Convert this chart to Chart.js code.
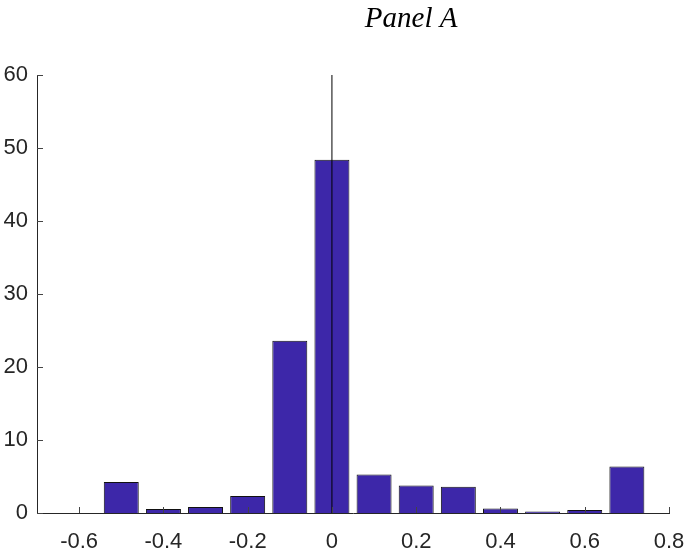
<!DOCTYPE html>
<html>
<head>
<meta charset="utf-8">
<script src="https://cdn.jsdelivr.net/npm/chart.js@4.4.1/dist/chart.umd.min.js"></script>
<style>
    body { margin: 0; background: #fff; }
    #wrap { position: relative; width: 688px; height: 553px; }
</style>
</head>
<body>
<div id="wrap"><canvas id="chart"></canvas></div>
<script>
const titleText = 'Panel A';

// bin centres and the share (%) in each bin
const binCenters = [-0.6, -0.5, -0.4, -0.3, -0.2, -0.1, 0, 0.1, 0.2, 0.3, 0.4, 0.5, 0.6, 0.7];
const binShares = [0, 4.25, 0.55, 0.82, 2.33, 23.6, 48.4, 5.29, 3.78, 3.6, 0.63, 0.22, 0.41, 6.38];

const xTicks = [-0.6, -0.4, -0.2, 0, 0.2, 0.4, 0.6, 0.8];
const yTicks = [0, 10, 20, 30, 40, 50, 60];

// vertical reference line at zero
const refLineX = [0, 0];
const refLineY = [0, 60];

const tickFont = { family: '"Liberation Sans", Arial, sans-serif', size: 22 };

// inward tick marks + title
const panelDecor = {
    id: 'panelDecor',
    afterDatasetsDraw(chart) {
        const { ctx, chartArea } = chart;
        const x = chart.scales.x;
        const y = chart.scales.y;
        ctx.save();
        ctx.strokeStyle = '#444';
        ctx.lineWidth = 1;
        ctx.beginPath();
        xTicks.forEach((v) => {
            const px = Math.round(x.getPixelForValue(v)) + 0.5;
            ctx.moveTo(px, chartArea.bottom);
            ctx.lineTo(px, chartArea.bottom - 6);
        });
        yTicks.forEach((v) => {
            const py = Math.round(y.getPixelForValue(v)) + 0.5;
            ctx.moveTo(chartArea.left, py);
            ctx.lineTo(chartArea.left + 6, py);
        });
        ctx.stroke();

        ctx.font = 'italic 29px "Liberation Serif", "Times New Roman", serif';
        ctx.fillStyle = '#000';
        ctx.textAlign = 'center';
        ctx.textBaseline = 'alphabetic';
        ctx.fillText(titleText, chartArea.left + chartArea.width * 0.592, 27);
        ctx.restore();
    }
};

new Chart(document.getElementById('chart'), {
    type: 'bar',
    data: {
        datasets: [
            {
                type: 'line',
                data: refLineX.map((v, i) => ({ x: v, y: refLineY[i] })),
                borderColor: '#000',
                borderWidth: 1,
                pointRadius: 0,
                fill: false,
                order: 0
            },
            {
                data: binCenters.map((v, i) => ({ x: v, y: binShares[i] })),
                backgroundColor: '#3D27A9',
                borderColor: '#111',
                borderWidth: 1,
                barPercentage: 0.83,
                categoryPercentage: 1,
                order: 1
            }
        ]
    },
    options: {
        responsive: true,
        maintainAspectRatio: false,
        animation: false,
        layout: { padding: { top: 75, right: 19, left: 0, bottom: 0 } },
        plugins: {
            legend: { display: false },
            tooltip: { enabled: false }
        },
        scales: {
            x: {
                type: 'linear',
                offset: false,
                min: -0.7,
                max: 0.8,
                grid: { display: false, drawTicks: false, offset: false },
                border: { display: true, color: '#262626', width: 1 },
                afterBuildTicks: (s) => { s.ticks = xTicks.map((v) => ({ value: v })); },
                afterFit: (s) => {
                    s.height = 40;
                    s.paddingLeft = 0;
                    s.paddingRight = 0;
                },
                ticks: { color: '#262626', font: tickFont, padding: 16, maxRotation: 0 }
            },
            y: {
                min: 0,
                max: 60,
                grid: { display: false, drawTicks: false },
                border: { display: true, color: '#262626', width: 1 },
                afterBuildTicks: (s) => { s.ticks = yTicks.map((v) => ({ value: v })); },
                afterFit: (s) => {
                    s.width = 37;
                    s.paddingTop = 0;
                    s.paddingBottom = 0;
                },
                ticks: { color: '#262626', font: tickFont, padding: 9 }
            }
        }
    },
    plugins: [panelDecor]
});
</script>
</body>
</html>
